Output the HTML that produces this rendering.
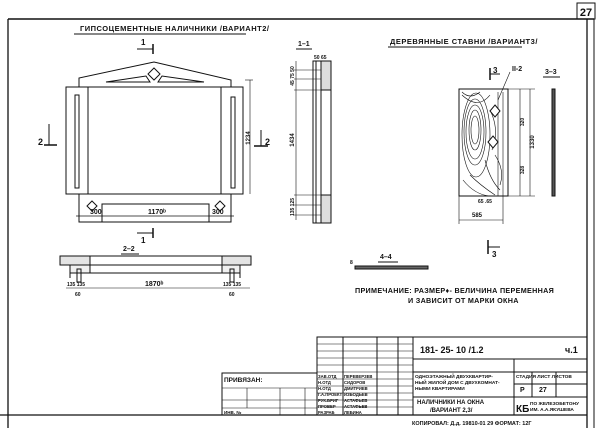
<!DOCTYPE html>
<html><head><meta charset="utf-8"><style>
html,body{margin:0;padding:0;background:#fff}
svg{display:block}
text{font-family:"Liberation Sans",sans-serif;fill:#111;font-weight:bold}
</style></head><body>
<svg width="600" height="428" viewBox="0 0 600 428" xmlns="http://www.w3.org/2000/svg" stroke="#111" fill="none" stroke-width="1">
<line x1="8" y1="19" x2="594" y2="19" stroke-width="1.5"/>
<line x1="8" y1="19" x2="8" y2="428" stroke-width="1.3"/>
<line x1="587" y1="19" x2="587" y2="428" stroke-width="1.3"/>
<line x1="594" y1="19" x2="594" y2="428" stroke-width="1"/>
<rect x="577" y="3" width="18" height="16"/>
<text x="586" y="16" font-size="11" text-anchor="middle" stroke="none">27</text>
<line x1="0" y1="415" x2="587" y2="415" stroke-width="1.3"/>

<text x="80" y="31" font-size="7.5" stroke="none" letter-spacing="0.5">ГИПСОЦЕМЕНТНЫЕ НАЛИЧНИКИ /ВАРИАНТ2/</text>
<line x1="74" y1="34" x2="246" y2="34"/>
<text x="390" y="44" font-size="7.5" stroke="none" letter-spacing="0.5">ДЕРЕВЯННЫЕ СТАВНИ /ВАРИАНТ3/</text>
<line x1="388" y1="47" x2="522" y2="47"/>

<polyline points="79,87 79,78 154,62 231,80 231,87"/>
<rect x="66" y="87" width="177" height="107"/>
<rect x="88" y="87" width="133" height="107"/>
<rect x="75" y="95" width="4" height="93"/>
<rect x="231" y="97" width="4" height="91"/>
<polygon points="154,68 160,74 154,80 148,74"/>
<polygon points="106,82 146,76 150,82"/>
<polygon points="158,82 162,76 204,82"/>
<polyline points="79,194 79,222 231,222 231,194"/>
<polyline points="102,222 102,204 209,204 209,222"/>
<polygon points="92,201 97,206 92,211 87,206"/>
<polygon points="220,201 225,206 220,211 215,206"/>
<line x1="76" y1="216" x2="234" y2="216" stroke-width="0.7"/>
<text x="90" y="214" font-size="7" stroke="none">300</text>
<text x="148" y="214" font-size="7" stroke="none">1170ᵇ</text>
<text x="212" y="214" font-size="7" stroke="none">300</text>
<line x1="245" y1="80" x2="253" y2="80" stroke-width="0.6"/>
<line x1="250" y1="80" x2="250" y2="194" stroke-width="0.6"/>
<text x="250" y="138" font-size="6" stroke="none" transform="rotate(-90 250 138)" text-anchor="middle">1234</text>
<text x="141" y="45" font-size="8" stroke="none">1</text>
<line x1="137" y1="49" x2="153" y2="49"/><line x1="153" y1="44" x2="153" y2="54" stroke-width="1.5"/>
<text x="141" y="243" font-size="8" stroke="none">1</text>
<line x1="137" y1="233" x2="153" y2="233"/><line x1="153" y1="228" x2="153" y2="238" stroke-width="1.5"/>
<text x="38" y="145" font-size="9" stroke="none">2</text>
<line x1="49" y1="124" x2="49" y2="145"/><line x1="44" y1="145" x2="57" y2="145" stroke-width="1.5"/>
<text x="265" y="145" font-size="9" stroke="none">2</text>
<line x1="261" y1="130" x2="261" y2="146"/><line x1="254" y1="146" x2="268" y2="146" stroke-width="1.5"/>

<text x="298" y="46" font-size="7" stroke="none">1–1</text>
<line x1="296" y1="49" x2="312" y2="49"/>
<rect x="313" y="61" width="18" height="162"/>
<line x1="316" y1="61" x2="316" y2="223"/>
<line x1="321" y1="61" x2="321" y2="223"/>
<rect x="321" y="61" width="10" height="29" fill="#ddd"/>
<rect x="321" y="195" width="10" height="28" fill="#ddd"/>
<line x1="294" y1="70" x2="321" y2="70" stroke-width="0.6"/>
<line x1="294" y1="79" x2="321" y2="79" stroke-width="0.6"/>
<line x1="294" y1="90" x2="331" y2="90" stroke-width="0.6"/>
<line x1="294" y1="195" x2="331" y2="195" stroke-width="0.6"/>
<line x1="294" y1="205" x2="321" y2="205" stroke-width="0.6"/>
<line x1="294" y1="215" x2="321" y2="215" stroke-width="0.6"/>
<line x1="296" y1="61" x2="296" y2="220" stroke-width="0.6"/>
<text x="294" y="140" font-size="6" stroke="none" transform="rotate(-90 294 140)" text-anchor="middle">1434</text>
<text x="294" y="76" font-size="5" stroke="none" transform="rotate(-90 294 76)" text-anchor="middle">45 75 50</text>
<text x="294" y="207" font-size="5" stroke="none" transform="rotate(-90 294 207)" text-anchor="middle">135 125</text>
<text x="314" y="59" font-size="5" stroke="none">50 65</text>

<text x="123" y="251" font-size="7" stroke="none">2–2</text>
<line x1="121" y1="254" x2="139" y2="254"/>
<rect x="60" y="256" width="191" height="9"/>
<line x1="70" y1="265" x2="70" y2="278"/><line x1="240" y1="265" x2="240" y2="278"/>
<line x1="70" y1="273" x2="240" y2="273"/>
<rect x="60" y="256" width="30" height="9" fill="#e4e4e4"/>
<rect x="222" y="256" width="29" height="9" fill="#e4e4e4"/>
<rect x="70" y="265" width="20" height="8" fill="#f0f0f0"/>
<rect x="222" y="265" width="18" height="8" fill="#f0f0f0"/>
<rect x="77" y="269" width="4" height="13"/><rect x="230" y="269" width="4" height="13"/>
<line x1="66" y1="288" x2="250" y2="288" stroke-width="0.6"/>
<text x="145" y="286" font-size="7" stroke="none">1870ᵇ</text>
<text x="67" y="286" font-size="5" stroke="none">135 135</text>
<text x="223" y="286" font-size="5" stroke="none">135 135</text>
<text x="75" y="296" font-size="5" stroke="none">60</text>
<text x="229" y="296" font-size="5" stroke="none">60</text>

<text x="493" y="73" font-size="8" stroke="none">3</text>
<line x1="490" y1="68" x2="490" y2="80" stroke-width="1.5"/><line x1="490" y1="74" x2="500" y2="74"/>
<text x="512" y="71" font-size="7" stroke="none">II-2</text>
<line x1="510" y1="72" x2="498" y2="100" stroke-width="0.6"/>
<text x="545" y="74" font-size="7" stroke="none">3–3</text>
<line x1="543" y1="77" x2="560" y2="77"/>
<rect x="459" y="89" width="49" height="107"/>
<g stroke-width="0.6">
<ellipse cx="475" cy="130" rx="4" ry="14"/><ellipse cx="475" cy="130" rx="6" ry="20"/><ellipse cx="475" cy="132" rx="9" ry="27"/><ellipse cx="475" cy="132" rx="11" ry="33"/><ellipse cx="476" cy="135" rx="14" ry="42"/>
<path d="M462 95 Q478 110 490 95 M485 160 Q490 180 500 190 M470 175 Q480 185 495 195 M490 110 Q500 130 492 150 M463 180 Q475 195 490 196 M498 92 L498 196 M503 92 L503 196 M495 155 Q505 170 500 185 M462 92 Q470 100 480 92"/>
</g>
<polygon points="495,105 500,111 495,117 490,111" fill="#fff"/>
<polygon points="493,136 498,142 493,148 488,142" fill="#fff"/>
<line x1="508" y1="89" x2="535" y2="89" stroke-width="0.6"/>
<line x1="508" y1="196" x2="535" y2="196" stroke-width="0.6"/>
<line x1="530" y1="89" x2="530" y2="196" stroke-width="0.6"/>
<line x1="520" y1="89" x2="520" y2="196" stroke-width="0.6"/>
<text x="534" y="142" font-size="6" stroke="none" transform="rotate(-90 534 142)" text-anchor="middle">1330</text>
<text x="524" y="122" font-size="5" stroke="none" transform="rotate(-90 524 122)" text-anchor="middle">320</text>
<text x="524" y="170" font-size="5" stroke="none" transform="rotate(-90 524 170)" text-anchor="middle">328</text>
<line x1="459" y1="196" x2="459" y2="224" stroke-width="0.6"/>
<line x1="503" y1="196" x2="503" y2="224" stroke-width="0.6"/>
<line x1="459" y1="220" x2="503" y2="220" stroke-width="0.6"/>
<text x="472" y="217" font-size="6" stroke="none">585</text>
<text x="478" y="203" font-size="5" stroke="none">65 .65</text>
<rect x="552" y="89" width="3" height="107" fill="#555"/>
<text x="492" y="257" font-size="8" stroke="none">3</text>
<line x1="488" y1="240" x2="488" y2="254" stroke-width="1.5"/><line x1="488" y1="247" x2="500" y2="247"/>

<text x="380" y="259" font-size="7" stroke="none">4–4</text>
<line x1="378" y1="262" x2="398" y2="262"/>
<rect x="355" y="266" width="73" height="3" fill="#666"/>
<text x="350" y="264" font-size="5" stroke="none">8</text>

<text x="355" y="293" font-size="7.2" stroke="none" letter-spacing="0.3">ПРИМЕЧАНИЕ: РАЗМЕР♦- ВЕЛИЧИНА ПЕРЕМЕННАЯ</text>
<text x="408" y="303" font-size="7.2" stroke="none" letter-spacing="0.3">И ЗАВИСИТ ОТ МАРКИ ОКНА</text>

<g stroke-width="1">
<rect x="317" y="337" width="270" height="78"/>
<line x1="413" y1="337" x2="413" y2="415"/>
<line x1="413" y1="359" x2="587" y2="359"/>
<line x1="413" y1="372" x2="587" y2="372"/>
<line x1="413" y1="397" x2="587" y2="397"/>
<line x1="514" y1="359" x2="514" y2="415"/>
<line x1="514" y1="384" x2="587" y2="384"/>
<line x1="532" y1="372" x2="532" y2="397"/><line x1="556" y1="372" x2="556" y2="397"/>
<line x1="343" y1="337" x2="343" y2="415"/>
<line x1="377" y1="337" x2="377" y2="415"/>
<line x1="398" y1="337" x2="398" y2="415"/>
</g>
<g stroke-width="0.6">
<line x1="317" y1="344" x2="413" y2="344"/><line x1="317" y1="351" x2="413" y2="351"/>
<line x1="317" y1="358" x2="413" y2="358"/><line x1="317" y1="365" x2="413" y2="365"/>
<line x1="317" y1="372" x2="413" y2="372"/><line x1="317" y1="379" x2="413" y2="379"/>
<line x1="317" y1="386" x2="413" y2="386"/><line x1="317" y1="393" x2="413" y2="393"/>
<line x1="317" y1="400" x2="413" y2="400"/><line x1="317" y1="407" x2="413" y2="407"/>
</g>
<rect x="222" y="373" width="95" height="42"/>
<line x1="222" y1="388" x2="317" y2="388" stroke-width="0.6"/>
<line x1="222" y1="400" x2="317" y2="400" stroke-width="0.6"/>
<line x1="222" y1="408" x2="317" y2="408" stroke-width="0.6"/>
<line x1="247" y1="388" x2="247" y2="408" stroke-width="0.6"/>
<line x1="280" y1="388" x2="280" y2="415" stroke-width="0.6"/>
<line x1="305" y1="388" x2="305" y2="415" stroke-width="0.6"/>
<text x="224" y="382" font-size="6.5" stroke="none">ПРИВЯЗАН:</text>
<text x="224" y="414" font-size="4.5" stroke="none">ИНВ. №</text>
<g font-size="4.2" stroke="none">
<text x="318" y="378" stroke="none">ЗАВ.ОТД</text><text x="344" y="378" stroke="none">ПЕРЕВЕРЗЕВ</text>
<text x="318" y="384" stroke="none">Н.ОТД</text><text x="344" y="384" stroke="none">СИДОРОВ</text>
<text x="318" y="390" stroke="none">Н.ОТД</text><text x="344" y="390" stroke="none">ДМИТРИЕВ</text>
<text x="318" y="396" stroke="none">Г.А.ПРОЕКТ</text><text x="344" y="396" stroke="none">ИЗБОДЬЕВ</text>
<text x="318" y="402" stroke="none">РУК.БРИГ</text><text x="344" y="402" stroke="none">АСТАФЬЕВ</text>
<text x="318" y="408" stroke="none">ПРОВЕР</text><text x="344" y="408" stroke="none">АСТАФЬЕВ</text>
<text x="318" y="414" stroke="none">РАЗРАБ</text><text x="344" y="414" stroke="none">ЛЕБИНА</text>
</g>
<text x="420" y="353" font-size="9" stroke="none">181- 25- 10 /1.2</text>
<text x="565" y="353" font-size="9" stroke="none">ч.1</text>
<g font-size="4.8" stroke="none">
<text x="415" y="378" stroke="none">ОДНОЭТАЖНЫЙ ДВУХКВАРТИР-</text>
<text x="415" y="384" stroke="none">НЫЙ ЖИЛОЙ ДОМ С ДВУХКОМНАТ-</text>
<text x="415" y="390" stroke="none">НЫМИ КВАРТИРАМИ</text>
<text x="516" y="378" stroke="none">СТАДИЯ ЛИСТ ЛИСТОВ</text>
</g>
<text x="417" y="404" font-size="6" stroke="none">НАЛИЧНИКИ НА ОКНА</text>
<text x="430" y="412" font-size="6" stroke="none">/ВАРИАНТ 2,3/</text>
<text x="520" y="392" font-size="7" stroke="none">Р</text>
<text x="539" y="392" font-size="7" stroke="none">27</text>
<text x="516" y="412" font-size="10" stroke="none">КБ</text>
<text x="530" y="405" font-size="4.8" stroke="none">ПО ЖЕЛЕЗОБЕТОНУ</text>
<text x="530" y="411" font-size="4.8" stroke="none">ИМ. А.А.ЯКУШЕВА</text>
<text x="412" y="425" font-size="5.5" stroke="none">КОПИРОВАЛ: Д.д.     19810-01  29  ФОРМАТ: 12Г</text>
</svg>
</body></html>
